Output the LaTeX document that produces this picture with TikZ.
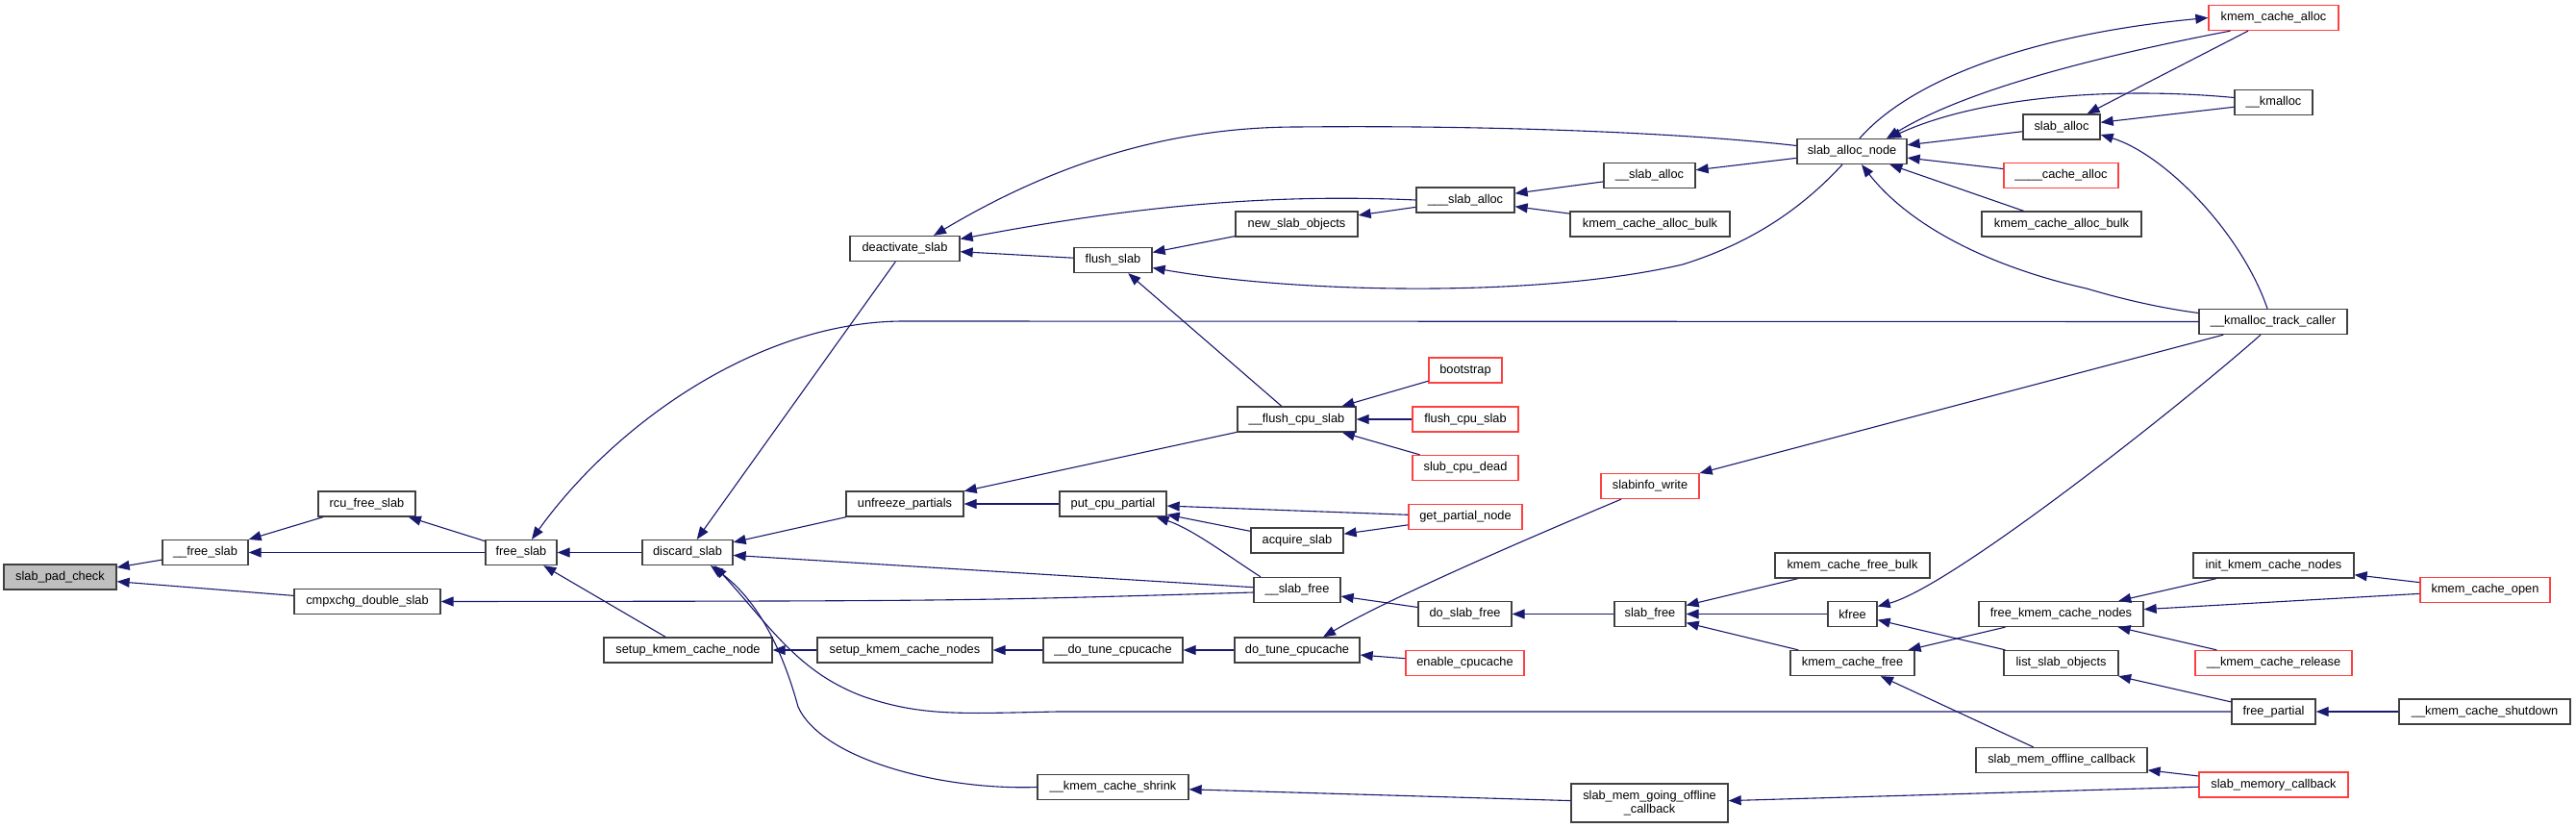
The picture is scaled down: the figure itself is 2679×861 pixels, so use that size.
\documentclass[tikz,border=0pt]{standalone}
\usepackage{fontspec}
\setmainfont{Liberation Sans}
\usetikzlibrary{arrows.meta}
\definecolor{eb}{RGB}{25,25,112}
\definecolor{bd}{RGB}{64,64,64}
\definecolor{rd}{RGB}{255,64,64}
\definecolor{rootfill}{RGB}{191,191,191}
\newcommand\nodefont{\fontsize{12.8}{14.5}\selectfont}
\begin{document}
\begin{tikzpicture}[x=1pt,y=-1pt,
  nd/.style={draw=bd, line width=1.3pt, fill=white, minimum height=26pt, inner sep=0pt, font=\nodefont, align=center},
  rn/.style={nd, draw=rd},
  root/.style={nd, fill=rootfill},
  e/.style={draw=eb, line width=1.1pt, <-},
  >={Triangle[length=13pt,width=10pt]}]
\fill[white] (0,0) rectangle (2679,861);
\useasboundingbox (0,0) rectangle (2679,861);

\node[root, minimum width=117pt] (spc) at (62.5,600) {slab\_pad\_check};
\node[nd, minimum width=89pt] (fslab2) at (213.5,574.5) {\_\_free\_slab};
\node[nd, minimum width=101pt] (rcu) at (381.5,524) {rcu\_free\_slab};
\node[nd, minimum width=74pt] (fslab) at (542,574.5) {free\_slab};
\node[nd, minimum width=152pt] (cmpx) at (382,625.5) {cmpxchg\_double\_slab};
\node[nd, minimum width=94pt] (discard) at (715,574.5) {discard\_slab};
\node[nd, minimum width=114pt] (deact) at (941,258.5) {deactivate\_slab};
\node[nd, minimum width=81pt] (flush) at (1157.5,270.5) {flush\_slab};
\node[nd, minimum width=127pt] (newso) at (1348.5,233) {new\_slab\_objects};
\node[nd, minimum width=102pt] (sa3) at (1524,208) {\_\_\_slab\_alloc};
\node[nd, minimum width=95pt] (sa2) at (1715.5,182.5) {\_\_slab\_alloc};
\node[nd, minimum width=166pt] (kcab1) at (1716,233) {kmem\_cache\_alloc\_bulk};
\node[nd, minimum width=114pt] (san) at (1926,157.5) {slab\_alloc\_node};
\node[rn, minimum width=135pt] (kca) at (2364.5,18.5) {kmem\_cache\_alloc};
\node[nd, minimum width=81pt] (kmalloc) at (2364.5,106.5) {\_\_kmalloc};
\node[nd, minimum width=80pt] (salloc) at (2144,132) {slab\_alloc};
\node[rn, minimum width=119pt] (cache4) at (2143.5,182.5) {\_\_\_\_cache\_alloc};
\node[nd, minimum width=166pt] (kcab2) at (2144,233) {kmem\_cache\_alloc\_bulk};
\node[nd, minimum width=154pt] (kmtc) at (2364,334.5) {\_\_kmalloc\_track\_caller};
\node[nd, minimum width=122pt] (unfreeze) at (941,524) {unfreeze\_partials};
\node[nd, minimum width=111pt] (pcp) at (1157.5,524) {put\_cpu\_partial};
\node[nd, minimum width=123pt] (fcs2) at (1348.5,436) {\_\_flush\_cpu\_slab};
\node[nd, minimum width=96pt] (acq) at (1349,562) {acquire\_slab};
\node[rn, minimum width=76pt] (boot) at (1524,385) {bootstrap};
\node[rn, minimum width=110pt] (fcs) at (1524,436) {flush\_cpu\_slab};
\node[rn, minimum width=110pt] (scd) at (1524,486.5) {slub\_cpu\_dead};
\node[rn, minimum width=118pt] (gpn) at (1524,537.5) {get\_partial\_node};
\node[rn, minimum width=102pt] (siw) at (1716,505.5) {slabinfo\_write};
\node[nd, minimum width=90pt] (sfree2) at (1349,613.5) {\_\_slab\_free};
\node[nd, minimum width=97pt] (dsf) at (1523.5,638.5) {do\_slab\_free};
\node[nd, minimum width=175pt] (skcn) at (715.5,676) {setup\_kmem\_cache\_node};
\node[nd, minimum width=182pt] (skcns) at (941,676) {setup\_kmem\_cache\_nodes};
\node[nd, minimum width=145pt] (dtc2) at (1157.5,676) {\_\_do\_tune\_cpucache};
\node[nd, minimum width=130pt] (dtc) at (1349,676) {do\_tune\_cpucache};
\node[rn, minimum width=123pt] (ecc) at (1523.5,689.5) {enable\_cpucache};
\node[nd, minimum width=157pt] (kcs) at (1157.5,818.5) {\_\_kmem\_cache\_shrink};
\node[nd, minimum width=163pt, minimum height=40pt] (smgoc) at (1715.5,835) {slab\_mem\_going\_offline\\\_callback};
\node[nd, minimum width=74pt] (sfree) at (1716,638.5) {slab\_free};
\node[nd, minimum width=161pt] (kcfb) at (1926.5,588) {kmem\_cache\_free\_bulk};
\node[nd, minimum width=51pt] (kfree) at (1926.5,638.5) {kfree};
\node[nd, minimum width=129pt] (kcf) at (1926.5,689.5) {kmem\_cache\_free};
\node[nd, minimum width=167pt] (ikcn) at (2364.5,588) {init\_kmem\_cache\_nodes};
\node[rn, minimum width=135pt] (kco) at (2584.5,613.5) {kmem\_cache\_open};
\node[nd, minimum width=171pt] (fkcn) at (2143.5,638.5) {free\_kmem\_cache\_nodes};
\node[nd, minimum width=119pt] (lso) at (2143.5,689.5) {list\_slab\_objects};
\node[rn, minimum width=163pt] (kcr) at (2364.5,689.5) {\_\_kmem\_cache\_release};
\node[nd, minimum width=87pt] (fp) at (2364.5,740) {free\_partial};
\node[nd, minimum width=178pt] (kcsd) at (2584,740) {\_\_kmem\_cache\_shutdown};
\node[nd, minimum width=178pt] (smoc) at (2144,790.5) {slab\_mem\_offline\_callback};
\node[rn, minimum width=155pt] (smc) at (2364.5,816) {slab\_memory\_callback};

\draw[e] (spc) -- (fslab2);
\draw[e] (spc) -- (cmpx);
\draw[e] (fslab2) -- (rcu);
\draw[e] (fslab2) -- (fslab);
\draw[e] (rcu) -- (fslab);
\draw[e] (fslab) -- (discard);
\draw[e] (fslab) -- (skcn);
\draw[e] ([xshift=11pt]fslab.north) .. controls (640,440) and (790,334) .. (940,334) -- (kmtc.west);
\draw[e] (discard) -- (deact);
\draw[e] (discard) -- (unfreeze);
\draw[e] (discard) -- (sfree2);
\draw[e] ([xshift=24pt]discard.south) .. controls (790,625) and (815,680) .. (830,735) .. controls (855,790) and (980,822) .. (kcs.west);
\draw[e] ([xshift=28pt]discard.south) .. controls (800,650) and (830,700) .. (900,725) .. controls (960,745) and (1000,742) .. (1100,740) -- (fp.west);
\draw[e] ([xshift=30pt]deact.north) .. controls (1080,180) and (1200,132) .. (1350,132) .. controls (1550,130) and (1750,138) .. ([yshift=6pt]san.west);
\draw[e] ([yshift=10pt]deact.east) .. controls (1150,220) and (1300,200) .. (sa3.west);
\draw[e] (deact) -- (flush);
\draw[e] (flush) -- (newso);
\draw[e] ([yshift=-8pt]flush.east) .. controls (1350,305) and (1600,310) .. (1750,275) .. controls (1830,250) and (1880,210) .. ([xshift=-10pt]san.south);
\draw[e] (flush) -- (fcs2);
\draw[e] (sa3) -- (sa2);
\draw[e] (sa3) -- (kcab1);
\draw[e] (newso) -- (sa3);
\draw[e] (sa2) -- (san);
\draw[e] (kca.west) .. controls (2120,35) and (1990,80) .. ([xshift=8pt]san.north);
\draw[e] ([xshift=36pt]san.north) .. controls (2050,90) and (2200,55) .. ([xshift=-45pt]kca.south);
\draw[e] ([xshift=38pt]san.north) .. controls (2060,100) and (2200,90) .. ([yshift=5pt]kmalloc.west);
\draw[e] (san) -- (salloc);
\draw[e] (san) -- (cache4);
\draw[e] (san) -- (kcab2);
\draw[e] ([xshift=10pt]san.south) .. controls (1990,240) and (2080,280) .. (2170,300) .. controls (2220,315) and (2260,322) .. ([yshift=9pt]kmtc.west);
\draw[e] (salloc) -- (kca);
\draw[e] (salloc) -- (kmalloc);
\draw[e] ([yshift=-8pt]salloc.east) .. controls (2250,160) and (2330,240) .. ([xshift=-6pt]kmtc.north);
\draw[e] (fcs2) -- (boot);
\draw[e] (fcs2) -- (fcs);
\draw[e] (fcs2) -- (scd);
\draw[e] (unfreeze) -- (fcs2);
\draw[e] (unfreeze) -- (pcp);
\draw[e] (pcp) -- (gpn);
\draw[e] (pcp) -- (acq);
\draw[e] ([xshift=45pt]pcp.south) .. controls (1240,550) and (1280,580) .. ([xshift=-38pt]sfree2.north);
\draw[e] (acq) -- (gpn);
\draw[e] (cmpx.east) .. controls (1000,625) .. ([yshift=-2.5pt]sfree2.west);
\draw[e] (sfree2) -- (dsf);
\draw[e] ([xshift=27pt]dtc.north) .. controls (1440,625) and (1560,572) .. ([xshift=-30pt]siw.south);
\draw[e] (dtc) -- (ecc);
\draw[e] (dtc2) -- (dtc);
\draw[e] (skcns) -- (dtc2);
\draw[e] (skcn) -- (skcns);
\draw[e] (siw) -- (kmtc);
\draw[e] (dsf) -- (sfree);
\draw[e] (sfree) -- (kcfb);
\draw[e] (sfree) -- (kfree);
\draw[e] (sfree) -- (kcf);
\draw[e] ([yshift=8pt]kfree.east) .. controls (2030,610) and (2270,420) .. ([xshift=-13pt]kmtc.south);
\draw[e] (kfree) -- (lso);
\draw[e] (kcf) -- (fkcn);
\draw[e] (kcf) -- (smoc);
\draw[e] (fkcn) -- (ikcn);
\draw[e] (fkcn) -- (kco);
\draw[e] (fkcn) -- (kcr);
\draw[e] (ikcn) -- (kco);
\draw[e] (lso) -- (fp);
\draw[e] (fp) -- (kcsd);
\draw[e] (smoc) -- (smc);
\draw[e] (smgoc) -- (smc);
\draw[e] (kcs) -- (smgoc);
\end{tikzpicture}
\end{document}
